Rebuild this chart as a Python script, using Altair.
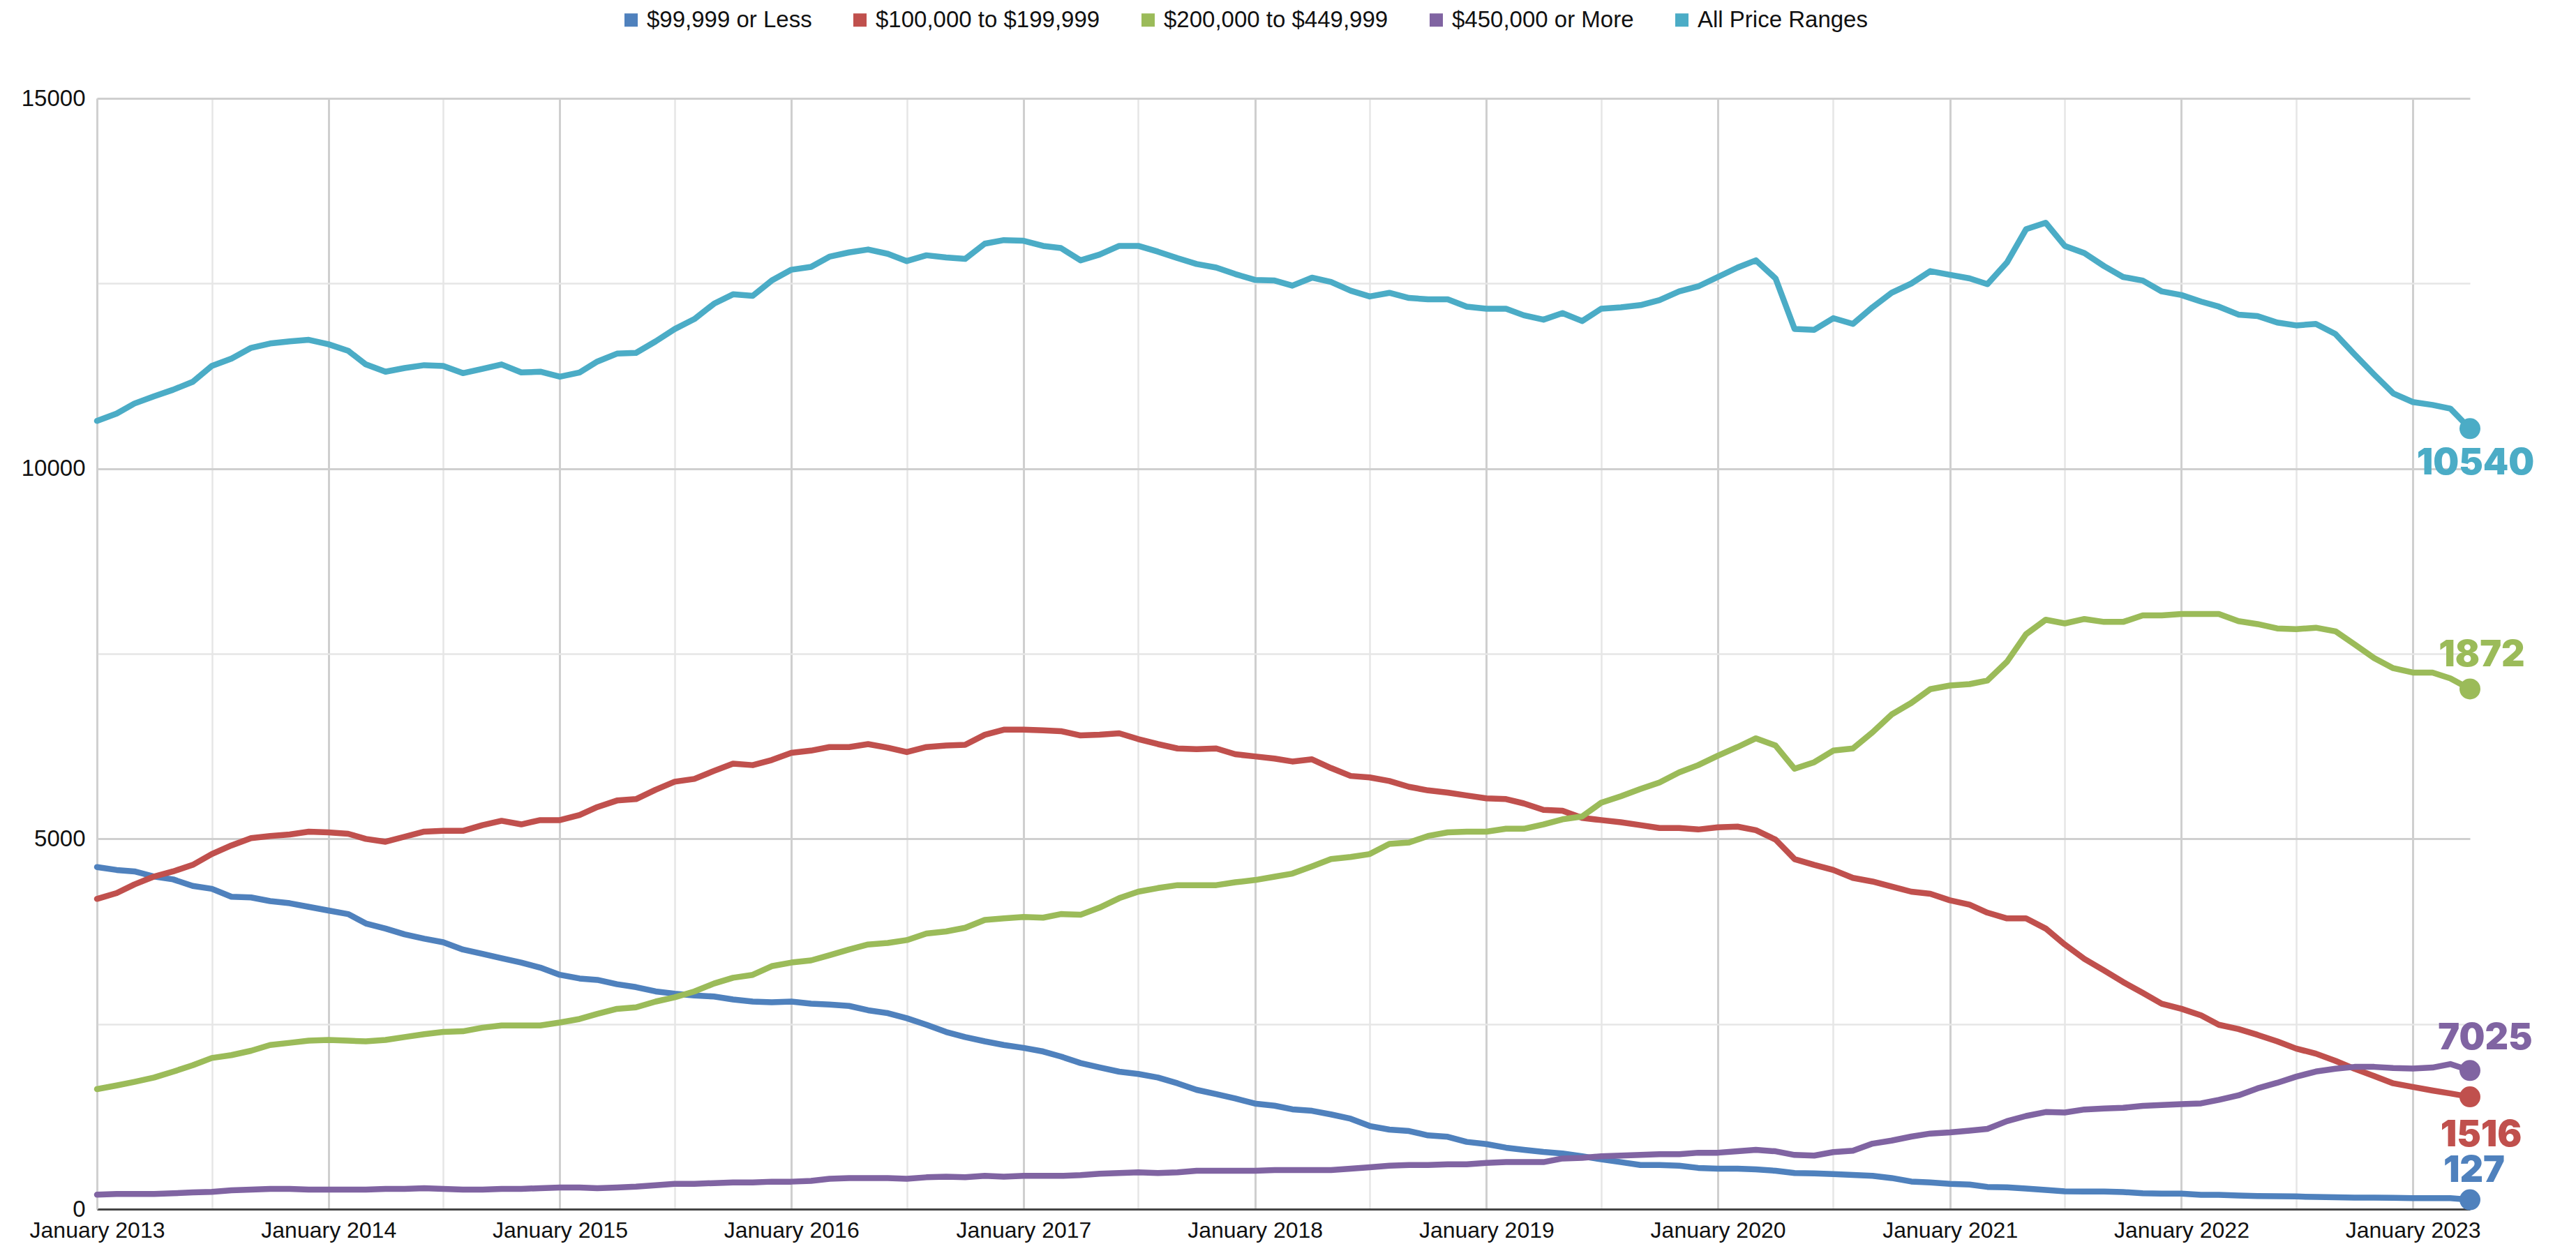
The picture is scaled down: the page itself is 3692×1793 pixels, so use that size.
import altair as alt
import pandas as pd

# ---------------- data ----------------
series_names = ["$99,999 or Less", "$100,000 to $199,999", "$200,000 to $449,999",
                "$450,000 or More", "All Price Ranges"]
series_colors = ["#4F81BD", "#C0504D", "#9BBB59", "#8064A2", "#4BACC6"]
start_month = "2013-01-01"
n_months = 124

under_100k = [4619, 4580, 4561, 4492, 4453, 4365, 4326, 4219, 4209, 4160,
              4131, 4082, 4033, 3985, 3858, 3789, 3711, 3652, 3604, 3506,
              3447, 3389, 3330, 3262, 3164, 3115, 3096, 3037, 2998, 2940,
              2910, 2886, 2871, 2832, 2803, 2793, 2803, 2774, 2764, 2744,
              2686, 2647, 2578, 2490, 2393, 2324, 2266, 2217, 2178, 2129,
              2061, 1973, 1914, 1856, 1826, 1777, 1699, 1611, 1553, 1494,
              1426, 1397, 1348, 1328, 1279, 1221, 1123, 1074, 1055, 996,
              977, 908, 879, 830, 801, 772, 752, 713, 674, 635,
              596, 596, 586, 557, 547, 547, 537, 518, 488, 482,
              474, 462, 449, 420, 373, 360, 341, 332, 300, 294,
              278, 259, 240, 237, 237, 231, 215, 209, 209, 193,
              193, 183, 177, 174, 171, 164, 161, 155, 155, 152,
              149, 149, 149, 127]

k100_199 = [4190, 4268, 4385, 4492, 4561, 4649, 4795, 4912, 5010, 5039,
            5059, 5098, 5088, 5069, 5000, 4961, 5029, 5098, 5108, 5108,
            5186, 5244, 5196, 5254, 5254, 5322, 5430, 5518, 5537, 5664,
            5772, 5810, 5918, 6016, 5996, 6065, 6162, 6192, 6240, 6240,
            6280, 6231, 6172, 6240, 6260, 6270, 6406, 6475, 6475, 6465,
            6455, 6397, 6406, 6426, 6348, 6280, 6221, 6211, 6221, 6143,
            6114, 6084, 6045, 6074, 5957, 5850, 5830, 5781, 5703, 5655,
            5625, 5586, 5547, 5537, 5479, 5391, 5381, 5283, 5254, 5225,
            5186, 5147, 5147, 5127, 5156, 5166, 5117, 4990, 4727, 4649,
            4580, 4473, 4424, 4356, 4287, 4258, 4170, 4111, 4004, 3926,
            3926, 3789, 3574, 3379, 3223, 3067, 2920, 2774, 2705, 2617,
            2490, 2432, 2354, 2266, 2168, 2100, 2002, 1895, 1797, 1699,
            1650, 1602, 1563, 1516]

k200_449 = [1621, 1670, 1719, 1777, 1856, 1943, 2041, 2080, 2139, 2217,
            2246, 2275, 2285, 2275, 2266, 2285, 2324, 2363, 2393, 2402,
            2451, 2481, 2481, 2481, 2520, 2568, 2637, 2705, 2725, 2803,
            2861, 2940, 3047, 3125, 3164, 3281, 3330, 3359, 3428, 3506,
            3574, 3594, 3633, 3721, 3750, 3799, 3906, 3926, 3945, 3936,
            3985, 3975, 4072, 4199, 4287, 4336, 4375, 4375, 4375, 4414,
            4444, 4490, 4531, 4629, 4727, 4756, 4795, 4932, 4951, 5039,
            5088, 5098, 5098, 5137, 5137, 5196, 5264, 5303, 5488, 5576,
            5674, 5762, 5899, 5996, 6123, 6240, 6358, 6260, 5947, 6035,
            6192, 6221, 6440, 6680, 6836, 7022, 7071, 7090, 7139, 7393,
            7764, 7959, 7910, 7969, 7930, 7930, 8018, 8018, 8037, 8037,
            8037, 7940, 7901, 7842, 7832, 7852, 7803, 7627, 7442, 7305,
            7246, 7246, 7168, 7025]

over_450k = [195, 205, 205, 205, 215, 225, 234, 254, 264, 273,
             273, 264, 264, 264, 264, 273, 273, 283, 273, 264,
             264, 273, 273, 283, 293, 293, 283, 293, 303, 322,
             342, 342, 352, 361, 361, 371, 371, 381, 410, 420,
             420, 420, 410, 430, 439, 430, 449, 439, 449, 449,
             449, 459, 479, 488, 498, 488, 498, 518, 518, 518,
             518, 527, 527, 527, 527, 547, 566, 586, 596, 596,
             605, 605, 625, 635, 635, 635, 684, 693, 713, 723,
             732, 742, 742, 762, 762, 781, 801, 781, 732, 723,
             770, 790, 885, 926, 980, 1021, 1036, 1059, 1084, 1188,
             1258, 1311, 1305, 1346, 1359, 1368, 1394, 1406, 1419, 1428,
             1476, 1536, 1631, 1706, 1789, 1858, 1896, 1921, 1921, 1905,
             1899, 1912, 1959, 1872]

all_ranges = [10645, 10743, 10879, 10977, 11065, 11172, 11387, 11485, 11631, 11690,
              11719, 11739, 11680, 11592, 11407, 11309, 11358, 11397, 11387, 11289,
              11348, 11407, 11299, 11309, 11241, 11299, 11446, 11553, 11563, 11719,
              11885, 12020, 12227, 12354, 12334, 12540, 12686, 12725, 12862, 12920,
              12959, 12901, 12803, 12881, 12852, 12832, 13038, 13086, 13077, 13008,
              12979, 12813, 12891, 13008, 13008, 12930, 12842, 12764, 12715, 12627,
              12549, 12540, 12471, 12579, 12520, 12403, 12325, 12374, 12305, 12286,
              12286, 12188, 12159, 12159, 12071, 12012, 12100, 11993, 12159, 12178,
              12208, 12276, 12393, 12461, 12588, 12715, 12813, 12569, 11885, 11875,
              12032, 11954, 12180, 12374, 12500, 12667, 12618, 12569, 12491, 12784,
              13233, 13321, 13008, 12911, 12735, 12588, 12540, 12393, 12344, 12256,
              12188, 12080, 12061, 11973, 11934, 11954, 11817, 11543, 11270, 11016,
              10899, 10860, 10811, 10540]

# end-of-line annotations exactly as printed in the reference (one per series)
end_label_text = ["127", "1516", "1872", "7025", "10540"]

y_ticks = [0, 2500, 5000, 7500, 10000, 12500, 15000]

# label pixel offsets (style only): (dx, dy) per series
label_offsets = [(6, -42), (16, 55), (17, -48), (22, -46), (8, 50)]

# ---------------- tables ----------------
dates = pd.date_range(start_month, periods=n_months, freq="MS")
date_str = dates.strftime("%Y-%m-%d")
all_series = [under_100k, k100_199, k200_449, over_450k, all_ranges]

rows = []
for name, vals in zip(series_names, all_series):
    for d, v in zip(date_str, vals):
        rows.append({"date": d, "series": name, "value": v})
df = pd.DataFrame(rows)

end_rows = []
for name, vals, txt in zip(series_names, all_series, end_label_text):
    end_rows.append({"date": date_str[-1], "series": name, "value": vals[-1], "label": txt})
df_end = pd.DataFrame(end_rows)

def ms(ts):
    return int(pd.Timestamp(ts, tz="UTC").value // 10**6)

x_domain = [ms(dates[0]), ms(dates[-1])]
x_ticks = [ms(f"{y}-{m:02d}-01") for y in range(2013, 2024) for m in (1, 7)
           if ms(f"{y}-{m:02d}-01") <= x_domain[1]]

color_scale = alt.Scale(domain=series_names, range=series_colors)

x_enc = alt.X(
    "date:T",
    scale=alt.Scale(type="utc", domain=x_domain, nice=False),
    axis=alt.Axis(
        values=x_ticks,
        labelExpr="utcmonth(datum.value) == 0 ? utcFormat(datum.value, '%B %Y') : ''",
        labelFont="Liberation Sans", labelFontSize=32, labelColor="#111111",
        labelPadding=15, labelFlush=False, labelOverlap=False, labelLimit=0,
        ticks=False, title=None,
        domainColor="#454545", domainWidth=3,
        gridColor={"condition": {"test": "utcmonth(datum.value) == 0", "value": "#cfcfcf"},
                   "value": "#e6e6e6"},
        gridWidth={"condition": {"test": "utcmonth(datum.value) == 0", "value": 3},
                   "value": 2.5},
    ),
)

y_enc = alt.Y(
    "value:Q",
    scale=alt.Scale(domain=[0, 15000], nice=False),
    axis=alt.Axis(
        values=y_ticks, format="d",
        labelExpr="datum.value % 5000 == 0 ? datum.label : ''",
        labelFont="Liberation Sans", labelFontSize=33, labelColor="#111111",
        labelPadding=17, labelLimit=0, ticks=False, title=None,
        domainColor="#d0d0d0", domainWidth=2.5,
        gridColor={"condition": {"test": "datum.value % 5000 == 0", "value": "#cfcfcf"},
                   "value": "#e6e6e6"},
        gridWidth={"condition": {"test": "datum.value % 5000 == 0", "value": 3},
                   "value": 2.5},
    ),
)

lines = alt.Chart(df).mark_line(strokeWidth=8.5, strokeJoin="round", strokeCap="round").encode(
    x=x_enc, y=y_enc,
    color=alt.Color("series:N", scale=color_scale, legend=None),
    detail="series:N",
)

dots = alt.Chart(df_end).mark_circle(size=900, opacity=1).encode(
    x="date:T", y="value:Q",
    color=alt.Color(
        "series:N", scale=color_scale,
        sort=series_names,
        legend=alt.Legend(
            orient="none", legendX=749, legendY=-129, direction="horizontal",
            title=None, symbolType="square", symbolSize=361, symbolStrokeWidth=0,
            labelFont="Liberation Sans", labelFontSize=33, labelColor="#111111",
            labelLimit=0, columnPadding=52, labelOffset=6,
        ),
    ),
)

label_layers = []
for name, (ddx, ddy) in zip(series_names, label_offsets):
    label_layers.append(
        alt.Chart(df_end).transform_filter(alt.datum.series == name).mark_text(
            font="Inter", fontWeight=900, fontSize=52, align="center",
            baseline="middle", dx=ddx, dy=ddy,
        ).encode(
            x="date:T", y="value:Q", text="label:N",
            color=alt.Color("series:N", scale=color_scale, legend=None),
        )
    )

chart = alt.layer(lines, dots, *label_layers).resolve_legend(
    color="independent"
).properties(
    width=3401, height=1592,
    padding={"left": 131, "top": 133, "right": 144, "bottom": 52},
    autosize=alt.AutoSizeParams(type="none"),
    background="white",
).configure_view(stroke=None)

chart.save("out.html", embed_options={"renderer": "svg", "actions": False})
